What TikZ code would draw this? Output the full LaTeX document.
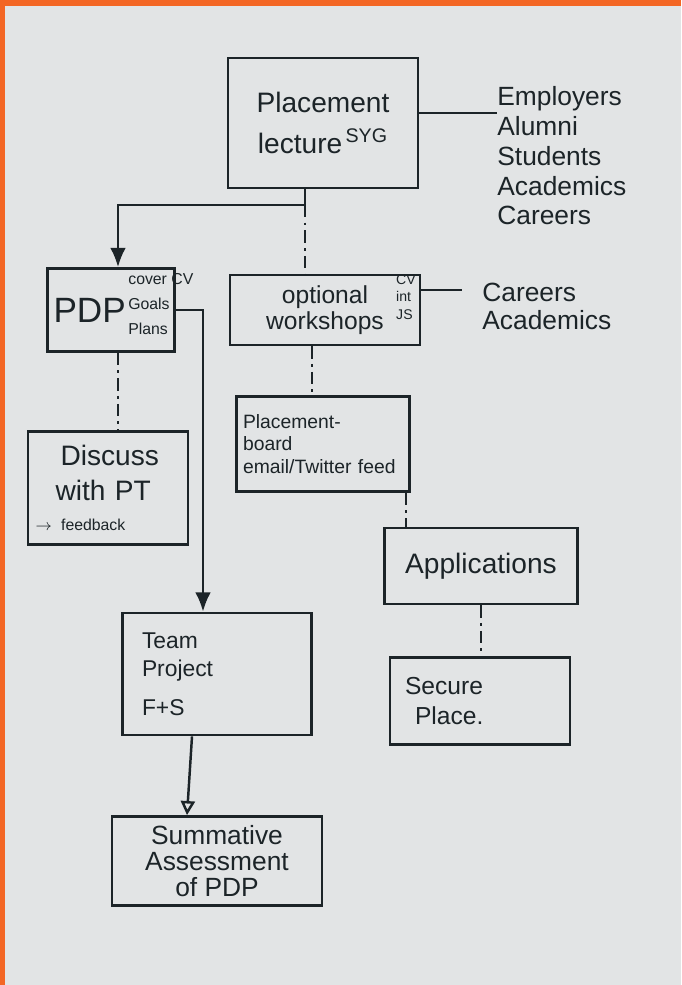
\documentclass[tikz,border=0pt]{standalone}
\usepackage{fontspec}
\setmainfont{Liberation Sans}
\usetikzlibrary{arrows.meta}
\definecolor{frameorange}{RGB}{243,102,36}
\definecolor{paper}{RGB}{226,228,229}
\definecolor{ink}{RGB}{28,36,40}
\tikzset{
  >=Latex,
  box/.style={
    rectangle, draw=ink, line width=1.6pt,
    text=ink, align=center, inner sep=3pt
  },
  hand/.style={text=ink, align=left, inner sep=0pt},
  link/.style={draw=ink, line width=1.4pt},
  arrow/.style={link, -{Latex[length=11pt,width=9pt]}},
  openarrow/.style={link, -{Triangle[open,length=8pt,width=8pt]}},
  dotdash/.style={link, dash pattern=on 7pt off 3pt on 1.5pt off 3pt},
}

\begin{document}
\begin{tikzpicture}[x=0.02cm, y=-0.02cm]
% --- Paper ---
\fill[frameorange] (0,0) rectangle (681,985);
\fill[paper] (5,6) rectangle (681,985);
\useasboundingbox (0,0) rectangle (681,985);
% --- Nodes ---
\node[box, minimum width=3.8cm, minimum height=2.6cm,
  font=\fontsize{16}{23}\selectfont] (lecture) at (323,123)
  {Placement\\lecture\textsuperscript{\,SYG}};
\node[hand, anchor=north west, font=\fontsize{15}{17}\selectfont] (people) at (497,86)
  {Employers\\Alumni\\Students\\Academics\\Careers};
\node[box, minimum width=2.54cm, minimum height=1.66cm, text width=2.3cm, align=left,
  font=\fontsize{20}{24}\selectfont] (pdp) at (111,310) {PDP};
\node[hand, anchor=west, font=\fontsize{9}{14}\selectfont] (pdpnotes) at (128,304)
  {cover CV\\Goals\\Plans};
\node[box, minimum width=3.8cm, minimum height=1.4cm,
  font=\fontsize{14}{15}\selectfont] (workshop) at (325,310) {optional\\workshops};
\node[hand, font=\fontsize{8}{10}\selectfont] (worknotes) at (406,297) {CV\\int\\JS};
\node[hand, anchor=west, font=\fontsize{15}{16}\selectfont] (careers) at (482,306)
  {Careers\\Academics};
\node[box, minimum width=3.2cm, minimum height=2.26cm, text width=2.9cm, align=left,
  font=\fontsize{16}{20}\selectfont] (discuss) at (108,488)
  {\hspace*{0.5cm}Discuss\\\hspace*{0.4cm}with PT\\[-3pt]{\fontsize{9}{10}\selectfont$\rightarrow$ feedback}};
\node[box, minimum width=3.46cm, minimum height=1.9cm, text width=3.2cm, align=left,
  font=\fontsize{11}{13}\selectfont] (board) at (323,444)
  {Placement-\\board\\email/Twitter feed};
\node[box, minimum width=3.86cm, minimum height=1.52cm,
  font=\fontsize{16}{20}\selectfont] (appl) at (481,566) {Applications};
\node[box, minimum width=3.6cm, minimum height=1.74cm, text width=3.0cm, align=left,
  font=\fontsize{14}{17}\selectfont] (secure) at (480,701) {Secure\\\hspace*{0.2cm}Place.};
\node[box, minimum width=3.78cm, minimum height=2.44cm, text width=3.0cm, align=left,
  font=\fontsize{13}{16}\selectfont] (team) at (217,674) {Team\\Project\\[6pt]F+S};
\node[box, minimum width=4.2cm, minimum height=1.78cm,
  font=\fontsize{15}{15}\selectfont] (summ) at (217,861) {Summative\\Assessment\\of PDP};
% --- Arrows ---
\coordinate (split) at (305,205);
\draw[link] ([yshift=0.2cm]lecture.east) -- ([yshift=0.2cm]lecture.east -| people.west);
\draw[link] (lecture.south -| split) -- (split);
\draw[arrow] (split) -| ([xshift=0.14cm]pdp.north);              % to PDP
\draw[dotdash] (split) -- (split |- workshop.north);               % to workshops
\draw[link] ([yshift=0.4cm]workshop.east) -- ([yshift=0.4cm, xshift=-0.4cm]workshop.east -| careers.west);
\draw[arrow] (pdp.east) -| ([xshift=-0.28cm]team.north);          % PDP -> team project
\draw[dotdash] ([xshift=0.14cm]pdp.south) -- ([xshift=0.14cm]pdp.south |- discuss.north);
\draw[dotdash] ([xshift=-0.26cm]workshop.south) -- ([xshift=-0.26cm]workshop.south |- board.north);
\draw[dotdash] ([xshift=-0.1cm]board.south east) -- ([xshift=-0.1cm]board.south east |- appl.north);
\draw[dotdash] (appl.south) -- (appl.south |- secure.north);
\draw[openarrow] ([xshift=-0.5cm]team.south) -- ([xshift=-0.6cm]summ.north);
\end{tikzpicture}
\end{document}
